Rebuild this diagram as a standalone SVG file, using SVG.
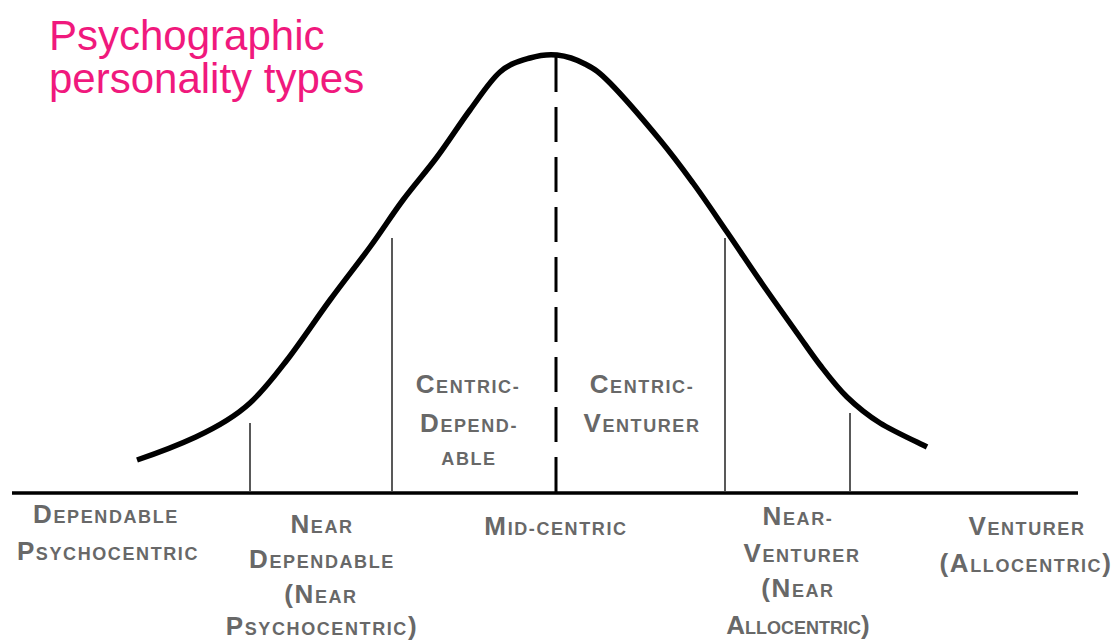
<svg xmlns="http://www.w3.org/2000/svg" width="1115" height="641" viewBox="0 0 1115 641">
<style>
.title{font-family:"Liberation Sans",Arial,sans-serif;font-size:42px;fill:#f0197d}
.lbl{font-family:"Liberation Sans",Arial,sans-serif;font-weight:bold;font-size:18px;fill:#686868;text-anchor:middle;letter-spacing:1.6px}
.big{font-size:26px}
.thin{stroke:#222;stroke-width:1.5;fill:none}
.axis{stroke:#000;stroke-width:3.5;fill:none}
.curve{stroke:#000;stroke-width:5.5;fill:none;stroke-linejoin:round}
.dash{stroke:#000;stroke-width:3;stroke-dasharray:35 15;fill:none}
</style>
<rect width="1115" height="641" fill="#fff"/>
<g id="title">
<text class="title" x="49" y="50">Psychographic</text>
<text class="title" x="49" y="93">personality types</text>
</g>
<g id="connectors">
<line class="axis" x1="12" y1="493" x2="1078" y2="493"/>
<path class="curve" d="M137,460 C172,448 221,429.6 250,403 C264.5,389.7 273.7,377.2 287,360 C300.3,342.8 316.2,318.8 330,300 C343.8,281.2 357.8,263.7 370,247 C382.2,230.3 391.8,215 403,200 C414.2,185 425.8,172 437,157 C448.2,142 459.5,124.2 470,110 C480.5,95.8 490,80.7 500,72 C510,63.3 520.5,60.8 530,58 C539.5,55.2 547.8,54 557,55 C566.2,56 576.2,59.3 585,64 C593.8,68.7 597.5,70.3 610,83 C622.5,95.7 646.2,123.3 660,140 C673.8,156.7 681.8,167.7 693,183 C704.2,198.3 715.3,215 727,232 C738.7,249 751.3,268.2 763,285 C774.7,301.8 787.5,319.7 797,333 C806.5,346.3 811.7,354.3 820,365 C828.3,375.7 837,387.3 847,397 C857,406.7 866.7,414.7 880,423 C893.3,431.3 919.2,443 927,447"/>
<line class="dash" x1="556" y1="57" x2="556" y2="493"/>
<line class="thin" x1="250" y1="423" x2="250" y2="491"/>
<line class="thin" x1="392" y1="238" x2="392" y2="491"/>
<line class="thin" x1="725" y1="238" x2="725" y2="491"/>
<line class="thin" x1="850" y1="413" x2="850" y2="491"/>
</g>
<g id="dependable-psychocentric">
<text class="lbl" x="106" y="523"><tspan class="big">D</tspan>EPENDABLE</text>
<text class="lbl" x="108" y="560"><tspan class="big">P</tspan>SYCHOCENTRIC</text>
</g>
<g id="near-dependable">
<text class="lbl" x="322" y="533"><tspan class="big">N</tspan>EAR</text>
<text class="lbl" x="322" y="568"><tspan class="big">D</tspan>EPENDABLE</text>
<text class="lbl" x="321" y="603"><tspan class="big">(N</tspan>EAR</text>
<text class="lbl" x="322" y="635"><tspan class="big">P</tspan>SYCHOCENTRIC<tspan class="big">)</tspan></text>
</g>
<g id="centric-dependable">
<text class="lbl" x="468" y="393"><tspan class="big">C</tspan>ENTRIC-</text>
<text class="lbl" x="469" y="432"><tspan class="big">D</tspan>EPEND-</text>
<text class="lbl" x="469" y="465">ABLE</text>
</g>
<g id="centric-venturer">
<text class="lbl" x="642" y="393"><tspan class="big">C</tspan>ENTRIC-</text>
<text class="lbl" x="642" y="432"><tspan class="big">V</tspan>ENTURER</text>
</g>
<g id="mid-centric">
<text class="lbl" x="556" y="535"><tspan class="big">M</tspan>ID-CENTRIC</text>
</g>
<g id="near-venturer">
<text class="lbl" x="798" y="525"><tspan class="big">N</tspan>EAR-</text>
<text class="lbl" x="802" y="562"><tspan class="big">V</tspan>ENTURER</text>
<text class="lbl" x="798" y="597"><tspan class="big">(N</tspan>EAR</text>
<text class="lbl" x="798" y="634" style="letter-spacing:0"><tspan class="big">A</tspan>LLOCENTRIC<tspan class="big">)</tspan></text>
</g>
<g id="venturer-allocentric">
<text class="lbl" x="1027" y="535"><tspan class="big">V</tspan>ENTURER</text>
<text class="lbl" x="1026" y="572"><tspan class="big">(A</tspan>LLOCENTRIC<tspan class="big">)</tspan></text>
</g>
</svg>
